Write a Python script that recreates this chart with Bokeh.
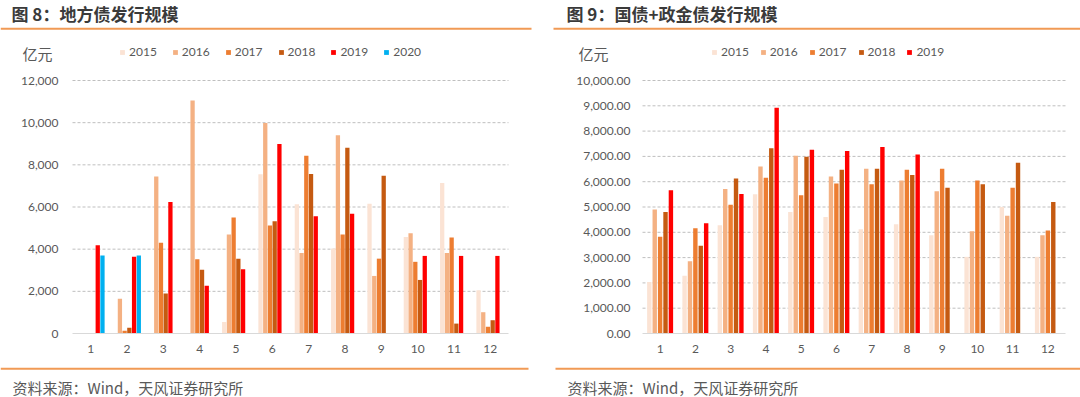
import numpy as np
from bokeh.plotting import figure
from bokeh.models import (ColumnDataSource, Legend, LegendItem, Label, BoxAnnotation,
                          FixedTicker, NumeralTickFormatter, Range1d)
from bokeh.layouts import row
from bokeh.embed import file_html
from bokeh.resources import INLINE

# ---------------- data ----------------
months = list(range(1, 13))
month_labels = [str(m) for m in months]

# 图 8：地方债发行规模 (亿元)
local_years = ["2015", "2016", "2017", "2018", "2019", "2020"]
local_2015 = [None, None, None, None, 550, 7550, 6130, 4030, 6160, 4580, 7140, 2050]
local_2016 = [None, 1650, 7450, 11050, 4700, 9980, 3820, 9400, 2730, 4750, 3820, 1010]
local_2017 = [None, 130, 4300, 3520, 5500, 5120, 8430, 4690, 3550, 3400, 4550, 320]
local_2018 = [None, 270, 1900, 3020, 3550, 5320, 7560, 8810, 7480, 2540, 470, 630]
local_2019 = [4180, 3640, 6240, 2260, 3050, 8990, 5560, 5680, None, 3680, 3680, 3680]
local_2020 = [3700, 3700, None, None, None, None, None, None, None, None, None, None]
local_ticks = [0, 2000, 4000, 6000, 8000, 10000, 12000]

# 图 9：国债+政金债发行规模 (亿元)
gov_years = ["2015", "2016", "2017", "2018", "2019"]
gov_2015 = [2040, 2280, 4280, 5500, 4800, 4600, 4120, 4320, 3880, 3030, 5000, 3030]
gov_2016 = [4900, 2860, 5710, 6600, 7030, 6210, 6510, 6050, 5620, 4040, 4650, 3880]
gov_2017 = [3820, 4160, 5090, 6160, 5460, 5930, 5900, 6470, 6510, 6050, 5760, 4070]
gov_2018 = [4800, 3470, 6130, 7320, 6990, 6470, 6510, 6260, 5760, 5900, 6750, 5200]
gov_2019 = [5660, 4360, 5510, 8920, 7260, 7210, 7370, 7080, None, None, None, None]
gov_ticks = [0, 1000, 2000, 3000, 4000, 5000, 6000, 7000, 8000, 9000, 10000]

colors = ["#FBE3D4", "#F4B183", "#ED7D31", "#C55A11", "#FF0000", "#00B0F0"]

CJK = "Noto Sans CJK SC"
NUM = "Lato"
GRAY = "#595959"
ORANGE = "#F19A55"

W, H = 540, 397          # each figure (Bokeh's page template has no body margin)
TOP_REF = 0              # reference y of figure top
BOT_REF = TOP_REF + H    # reference y of figure bottom
PLOT_TOP, PLOT_BOT = 80, 333   # reference y of top tick / zero line


def arr(v):
    return np.array([np.nan if x is None else x for x in v], dtype=float)


def make_chart(title, years, series, ticks, fmt, fig_left_ref, plot_left, plot_right,
               pitch, bar_w, y_standoff, legend_x_ref, legend_spacing,
               unit_x_ref, src_x_ref, line_top, line_bot):
    # scale anchors: month 0.5..12.5 spans plot_left..plot_right, 0..max spans PLOT_BOT..PLOT_TOP
    ppu_x = (plot_right - plot_left) / 12.0
    xs = 0.5 - (plot_left - fig_left_ref) / ppu_x
    xe = xs + W / ppu_x
    upp_y = ticks[-1] / (PLOT_BOT - PLOT_TOP)
    ys = -(BOT_REF - PLOT_BOT) * upp_y
    ye = ys + H * upp_y

    p = figure(width=W, height=H, x_range=Range1d(xs, xe), y_range=Range1d(ys, ye),
               output_backend="svg", toolbar_location=None,
               min_border_left=0, min_border_right=0, min_border_top=0, min_border_bottom=0)
    p.outline_line_color = None
    p.background_fill_color = "white"
    p.border_fill_color = "white"
    p.xgrid.visible = False
    p.ygrid.visible = False

    # dashed grid lines at the tick values, limited to the plot area
    gt = ticks[1:]
    p.segment(x0=[0.5] * len(gt), x1=[12.5] * len(gt), y0=gt, y1=gt,
              line_color="#BFBFBF", line_dash="3 2", line_width=1)

    n = len(years)
    renderers = []
    x0 = np.array(months, dtype=float)
    for i, (yr, vals) in enumerate(zip(years, series)):
        src = ColumnDataSource(dict(x=x0 + (i - (n - 1) / 2) * pitch, top=arr(vals)))
        r = p.vbar(x="x", top="top", bottom=0, width=bar_w, source=src,
                   fill_color=colors[i], line_color=None)
        renderers.append(r)

    p.yaxis.fixed_location = 0.5
    p.yaxis.bounds = (0, ticks[-1])
    p.yaxis.ticker = FixedTicker(ticks=ticks)
    p.yaxis.formatter = NumeralTickFormatter(format=fmt)
    p.yaxis.axis_line_color = None
    p.yaxis.major_tick_line_color = None
    p.yaxis.minor_tick_line_color = None
    p.yaxis.major_tick_out = 0
    p.yaxis.major_tick_in = 0
    p.yaxis.major_label_standoff = y_standoff
    p.yaxis.major_label_text_font = NUM
    p.yaxis.major_label_text_font_size = "12px"
    p.yaxis.major_label_text_color = GRAY

    p.xaxis.fixed_location = 0
    p.xaxis.bounds = (0.5, 12.5)
    p.xaxis.ticker = FixedTicker(ticks=months)
    p.xaxis.major_label_overrides = {m: l for m, l in zip(months, month_labels)}
    p.xaxis.axis_line_color = "#D9D9D9"
    p.xaxis.axis_line_width = 1
    p.xaxis.major_tick_line_color = None
    p.xaxis.minor_tick_line_color = None
    p.xaxis.major_tick_out = 0
    p.xaxis.major_tick_in = 0
    p.xaxis.major_label_standoff = 11
    p.xaxis.major_label_text_font = NUM
    p.xaxis.major_label_text_font_size = "12px"
    p.xaxis.major_label_text_color = GRAY

    def sx(x):
        return x - fig_left_ref

    def sy(y):
        return BOT_REF - y

    legend = Legend(items=[LegendItem(label=y, renderers=[r]) for y, r in zip(years, renderers)],
                    orientation="horizontal", location=(sx(legend_x_ref), sy(52) - 7),
                    glyph_width=6, glyph_height=6, label_standoff=4, spacing=legend_spacing,
                    padding=0, margin=0, border_line_color=None, background_fill_alpha=0,
                    label_text_font=NUM, label_text_font_size="12px",
                    label_text_color=GRAY, label_height=14, label_width=10)
    p.add_layout(legend)

    p.add_layout(Label(x=sx(src_x_ref - 1), y=sy(12.5), x_units="screen", y_units="screen",
                       text=title, text_font=CJK, text_font_size="17px",
                       text_font_style="bold", text_color="#3A3A3A",
                       text_baseline="middle", text_align="left"))
    p.add_layout(Label(x=sx(unit_x_ref), y=sy(53), x_units="screen", y_units="screen",
                       text="亿元", text_font=CJK, text_font_size="15px", text_color=GRAY,
                       text_baseline="middle", text_align="left"))
    p.add_layout(Label(x=sx(src_x_ref), y=sy(386.5), x_units="screen", y_units="screen",
                       text="资料来源：Wind，天风证券研究所",
                       text_font=CJK, text_font_size="15px", text_color=GRAY,
                       text_baseline="middle", text_align="left"))
    for (a, b), yy in ((line_top, 28.3), (line_bot, 368.3)):
        p.add_layout(BoxAnnotation(left=sx(a), right=sx(b), bottom=sy(yy + 1), top=sy(yy - 1),
                                   left_units="screen", right_units="screen",
                                   top_units="screen", bottom_units="screen",
                                   fill_color=ORANGE, fill_alpha=1, line_color=None))
    return p


p1 = make_chart("图 8：地方债发行规模", local_years,
                [local_2015, local_2016, local_2017, local_2018, local_2019, local_2020],
                local_ticks, "0,0", fig_left_ref=0, plot_left=72, plot_right=508,
                pitch=0.13, bar_w=0.118, y_standoff=14, legend_x_ref=119, legend_spacing=15,
                unit_x_ref=22, src_x_ref=12, line_top=(0, 531), line_bot=(0, 528))

p2 = make_chart("图 9：国债+政金债发行规模", gov_years,
                [gov_2015, gov_2016, gov_2017, gov_2018, gov_2019],
                gov_ticks, "0,0.00", fig_left_ref=540, plot_left=642, plot_right=1065,
                pitch=0.153, bar_w=0.125, y_standoff=12, legend_x_ref=711, legend_spacing=11,
                unit_x_ref=578, src_x_ref=567, line_top=(553, 1080), line_bot=(555, 1080))

layout = row(p1, p2, spacing=0)
open("out.html", "w").write(file_html(layout, INLINE))
